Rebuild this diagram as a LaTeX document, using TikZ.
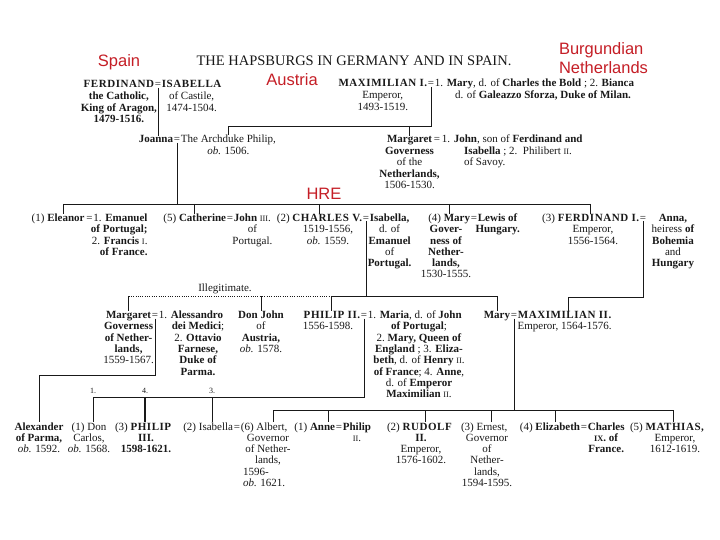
\documentclass[tikz,border=0pt]{standalone}
\usepackage{fontspec}
\setmainfont{Liberation Serif}
\newfontfamily\lblfont{Liberation Sans}
\usetikzlibrary{calc}
\definecolor{lblred}{RGB}{197,30,38}
\definecolor{ink}{RGB}{25,25,25}
\newcommand{\rn}[1]{{\fontsize{8.3}{8}\selectfont #1}}
\newcommand{\ob}{\textit{ob.}}
\newcommand{\caps}[1]{{\bfseries\addfontfeatures{LetterSpace=5}#1}}
\newcommand{\eqs}{\kern0.8pt=\kern0.8pt}
\newcommand{\cb}[1]{\begin{tabular}[t]{@{}c@{}}#1\end{tabular}}
\newcommand{\rbk}[1]{\begin{tabular}[t]{@{}r@{}}#1\end{tabular}}
\newcommand{\lbk}[1]{\begin{tabular}[t]{@{}l@{}}#1\end{tabular}}
\begin{document}
\begin{tikzpicture}[x=1pt,y=-1pt,
  every node/.style={inner sep=0pt, outer sep=0pt, text=ink, font=\fontsize{11}{11.3}\selectfont},
  eq/.style={anchor=base},
  lt/.style={anchor=base east},
  rt/.style={anchor=base west},
  bk/.style={anchor=base},
  region/.style={text=lblred, font=\lblfont\fontsize{16.5}{19}\selectfont},
  link/.style={draw=ink, line width=0.9pt},
  illeg/.style={draw=ink, line width=0.9pt, dash pattern=on 1pt off 1.3pt},
  num/.style={anchor=base, font=\fontsize{8}{8}\selectfont}]
\fill[white] (0,0) rectangle (720,540);
\useasboundingbox (0,0) rectangle (720,540);

% title and region labels
\node[anchor=base, font=\fontsize{14.5}{16}\selectfont] (title) at (354,66) {THE HAPSBURGS IN GERMANY AND IN SPAIN.};
\node[region, anchor=base] (spain) at (119,67) {Spain};
\node[region, anchor=base] (austria) at (292,86) {Austria};
\node[region, anchor=base west] (burg) at (559,55) {\lbk{Burgundian\\Netherlands}};
\node[region, anchor=base] (hre) at (324,200) {HRE};

% row 1
\node[eq] (eqA) at (158,88) {\eqs};
\node[lt] (ferd) at (eqA.base west) {\caps{FERDINAND}};
\node[rt] (isab) at (eqA.base east) {\caps{ISABELLA}};
\node[bk] (ferdB) at ($(ferd.base)+(0,11.8)$) {\cb{\textbf{the Catholic,}\\\textbf{King of Aragon,}\\\textbf{1479-1516.}}};
\node[bk] (isabB) at ($(isab.base)+(0,11.8)$) {\cb{of Castile,\\1474-1504.}};

\node[eq] (eqM) at (431,87) {\eqs};
\node[lt] (maxI) at (eqM.base west) {\caps{MAXIMILIAN I.}};
\node[rt] (maryB) at (eqM.base east) {1. \textbf{Mary}, d. of \textbf{Charles the Bold} ; 2. \textbf{Bianca}};
\node[rt] (galz) at (455,99) {d. of \textbf{Galeazzo Sforza, Duke of Milan.}};
\node[bk] (maxB) at ($(maxI.base)+(0,11.8)$) {\cb{Emperor,\\1493-1519.}};

% row 2
\node[eq] (eqJ) at (177,143) {\eqs};
\node[lt] (joanna) at (eqJ.base west) {\textbf{Joanna}};
\node[rt] (philA) at (eqJ.base east) {The Archduke Philip,};
\node[bk] (philB) at ($(philA.base)+(0,11.5)$) {\ob{} 1506.};

\node[eq] (eqMg) at (437,143) {\,=\,};
\node[lt] (marg) at (eqMg.base west) {\textbf{Margaret}};
\node[rt] (john) at (eqMg.base east) {1. \textbf{John}, son of \textbf{Ferdinand and}};
\node[bk] (margB) at ($(marg.base)+(0,11.5)$) {\cb{\textbf{Governess}\\of the\\\textbf{Netherlands,}\\1506-1530.}};
\node[rt] (johnB) at (464,154.5) {\lbk{\textbf{Isabella} ; 2.\ \ Philibert \rn{II}.\\of Savoy.}};

% row 3
\node[eq] (eqE) at (89,221.5) {\,=\kern0.8pt};
\node[lt] (eleanor) at (eqE.base west) {(1) \textbf{Eleanor}};
\node[rt] (emanuel) at (eqE.base east) {1. \textbf{Emanuel}};
\node[anchor=base east] (eleB) at ($(emanuel.base east)+(0,11.3)$) {\rbk{\textbf{of Portugal;}\\2. \textbf{Francis} \rn{I}.\\\textbf{of France.}}};

\node[eq] (eqC) at (230,221.5) {\eqs};
\node[lt] (cath) at (eqC.base west) {(5) \textbf{Catherine}};
\node[rt] (john3) at (eqC.base east) {\textbf{John} \rn{III}.};
\node[bk] (john3B) at ($(john3.base)+(0,11.3)$) {\cb{of\\Portugal.}};

\node[eq] (eqCh) at (366,221.5) {\eqs};
\node[lt] (charles) at (eqCh.base west) {(2) \caps{CHARLES V.}};
\node[rt] (isaC) at (eqCh.base east) {\textbf{Isabella,}};
\node[bk] (charB) at (328,232.8) {\cb{1519-1556,\\\ob{} 1559.}};
\node[bk] (isaCB) at ($(isaC.base)+(0,11.3)$) {\cb{d. of\\\textbf{Emanuel}\\of\\\textbf{Portugal.}}};

\node[eq] (eqMy) at (474,221.5) {\eqs};
\node[lt] (maryH) at (eqMy.base west) {(4) \textbf{Mary}};
\node[rt] (lewis) at (eqMy.base east) {\textbf{Lewis of}};
\node[bk] (lewisB) at ($(lewis.base)+(0,11.3)$) {\textbf{Hungary.}};
\node[bk] (maryHB) at (446,232.8) {\cb{\textbf{Gover-}\\\textbf{ness of}\\\textbf{Nether-}\\\textbf{lands,}\\1530-1555.}};

\node[eq] (eqF) at (643,221.5) {\eqs};
\node[lt] (ferd1) at (eqF.base west) {(3) \caps{FERDINAND I.}};
\node[bk] (ferd1B) at (593,232.8) {\cb{Emperor,\\1556-1564.}};
\node[bk] (anna) at (673,221.5) {\cb{\textbf{Anna,}\\heiress \textbf{of}\\\textbf{Bohemia}\\and\\\textbf{Hungary}}};

% row 4
\node[anchor=base] (illtxt) at (225,291.5) {Illegitimate.};
\node[eq] (eqMg2) at (155,318.5) {\eqs};
\node[lt] (marg2) at (eqMg2.base west) {\textbf{Margaret}};
\node[rt] (aless) at (eqMg2.base east) {1. \textbf{Alessandro}};
\node[bk] (marg2B) at ($(marg2.base)+(0,11.3)$) {\cb{\textbf{Governess}\\\textbf{of Nether-}\\\textbf{lands,}\\1559-1567.}};
\node[bk] (alessB) at (198,329.8) {\cb{\textbf{dei Medici};\\2. \textbf{Ottavio}\\\textbf{Farnese,}\\\textbf{Duke of}\\\textbf{Parma.}}};
\node[bk] (donjohn) at (261,318.5) {\cb{\textbf{Don John}\\of\\\textbf{Austria,}\\\ob{} 1578.}};

\node[eq] (eqP) at (364,318.5) {\eqs};
\node[lt] (phil2) at (eqP.base west) {\caps{PHILIP II.}};
\node[rt] (maria) at (eqP.base east) {1. \textbf{Maria}, d. of \textbf{John}};
\node[bk] (phil2B) at (328,329.8) {1556-1598.};
\node[bk] (mariaB) at (419,329.8) {\cb{\textbf{of Portugal};\\2.\ \textbf{Mary, Queen of}\\\textbf{England} ; 3. \textbf{Eliza-}\\\textbf{beth}, d. of \textbf{Henry} \rn{II}.\\\textbf{of France}; 4. \textbf{Anne},\\d. of \textbf{Emperor}\\\textbf{Maximilian} \rn{II}.}};

\node[eq] (eqMM) at (514,318.5) {\eqs};
\node[lt] (maryM) at (eqMM.base west) {\textbf{Mary}};
\node[rt] (max2) at (eqMM.base east) {\caps{MAXIMILIAN II.}};
\node[bk] (max2B) at ($(max2.base)+(0,11.3)$) {Emperor, 1564-1576.};

% row 5
\node[bk] (alex) at (39,430) {\cb{\textbf{Alexander}\\\textbf{of Parma,}\\\ob{} 1592.}};
\node[bk] (carlos) at (89,430) {\cb{(1) Don\\Carlos,\\\ob{} 1568.}};
\node[rt] (philIII) at (115,430) {(3) \caps{PHILIP}};
\node[bk] (philIIIB) at (146,441.3) {\cb{\textbf{III.}\\\textbf{1598-1621.}}};
\node[eq] (eqIA) at (237,430) {\eqs};
\node[lt] (isab2) at (eqIA.base west) {(2) Isabella};
\node[rt] (albert) at (eqIA.base east) {(6) Albert,};
\node[bk] (albertB) at (268,441.3) {\cb{Governor\\of Nether-\\lands,}};
\node[rt] (albertC) at (243,475.2) {\lbk{1596-\\\ob{} 1621.}};
\node[eq] (eqAP) at (339,430) {\eqs};
\node[lt] (anne) at (eqAP.base west) {(1) \textbf{Anne}};
\node[rt] (philipB) at (eqAP.base east) {\textbf{Philip}};
\node[bk] (philipBB) at ($(philipB.base)+(0,11.3)$) {\rn{II}.};
\node[rt] (rudolf) at (387,430) {(2) \caps{RUDOLF}};
\node[bk] (rudolfB) at (421,441.3) {\cb{\textbf{II.}\\Emperor,\\1576-1602.}};
\node[rt] (ernest) at (461,430) {(3) Ernest,};
\node[bk] (ernestB) at (487,441.3) {\cb{Governor\\of\\Nether-\\lands,\\1594-1595.}};
\node[eq] (eqEC) at (584,430) {\eqs};
\node[lt] (eliz) at (eqEC.base west) {(4) \textbf{Elizabeth}};
\node[rt] (charles9) at (eqEC.base east) {\textbf{Charles}};
\node[bk] (charles9B) at ($(charles9.base)+(0,11.3)$) {\cb{\textbf{\rn{IX}. of}\\\textbf{France.}}};
\node[rt] (mathias) at (630,430) {(5) \caps{MATHIAS,}};
\node[bk] (mathiasB) at (675,441.3) {\cb{Emperor,\\1612-1619.}};

% level coordinates
\coordinate (yMax) at (0,126);
\coordinate (yMain) at (0,204);
\coordinate (yIll) at (0,296);
\coordinate (yAlex) at (0,375);
\coordinate (tEle) at (63,204);
\coordinate (tMx2) at (568,297);
\coordinate (t1) at (93,397);
\coordinate (t4) at (145,397);
\coordinate (t3) at (212,397);
\coordinate (tAlb) at (273,410);
\coordinate (tAnn) at (328,410);
\coordinate (tRud) at (425,410);
\coordinate (tErn) at (491,410);
\coordinate (tEli) at (555,410);
\coordinate (tMat) at (673,410);

% connectors
\draw[link] (eqA.south) -- (eqA.south |- joanna.north);
\draw[link] (eqM.south) |- (philA.north |- yMax) -- (philA.north);
\draw[link] (marg.north |- yMax) -- (marg.north);
\draw[link] (eqJ.south) -- (eqJ.south |- yMain);
\draw[link] (tEle) -- (ferd1.north |- yMain);
\draw[link] (tEle) -- (tEle |- eleanor.north);
\draw[link] (cath.north |- yMain) -- (cath.north);
\draw[link] (charles.north |- yMain) -- (charles.north);
\draw[link] (maryH.north |- yMain) -- (maryH.north);
\draw[link] (ferd1.north |- yMain) -- (ferd1.north);

\draw[link] (eqCh.south) -- (eqCh.south |- yIll);
\draw[illeg] (marg2.north |- yIll) -- (phil2.north |- yIll);
\draw[link] (phil2.north |- yIll) -- (maryM.north |- yIll);
\draw[link] (marg2.north |- yIll) -- (marg2.north);
\draw[link] (donjohn.north |- yIll) -- (donjohn.north);
\draw[link] (phil2.north |- yIll) -- (phil2.north);
\draw[link] (maryM.north |- yIll) -- (maryM.north);
\draw[link] (eqF.south) |- (tMx2) -- (tMx2 |- max2.north);

\draw[link] (eqMg2.south) |- (alex.north |- yAlex) -- (alex.north);
\draw[link] (eqP.south) |- (t1) -- (t1 |- carlos.north);
\draw[link, line width=1.6pt] (t4) -- (t4 |- philIII.north);
\draw[link] (t3) -- (t3 |- isab2.north);
\node[num] (n1) at ($(t1)+(0,-3.5)$) {1.};
\node[num] (n4) at ($(t4)+(0,-3.5)$) {4.};
\node[num] (n3) at ($(t3)+(0,-3.5)$) {3.};

\draw[link] (eqMM.south) -- (eqMM.south |- tMat);
\draw[link] (tAlb) -- (tMat);
\draw[link] (tAlb) -- (tAlb |- albert.north);
\draw[link] (tAnn) -- (tAnn |- anne.north);
\draw[link] (tRud) -- (tRud |- rudolf.north);
\draw[link] (tErn) -- (tErn |- ernest.north);
\draw[link] (tEli) -- (tEli |- eliz.north);
\draw[link] (tMat) -- (tMat |- mathias.north);
\end{tikzpicture}
\end{document}
